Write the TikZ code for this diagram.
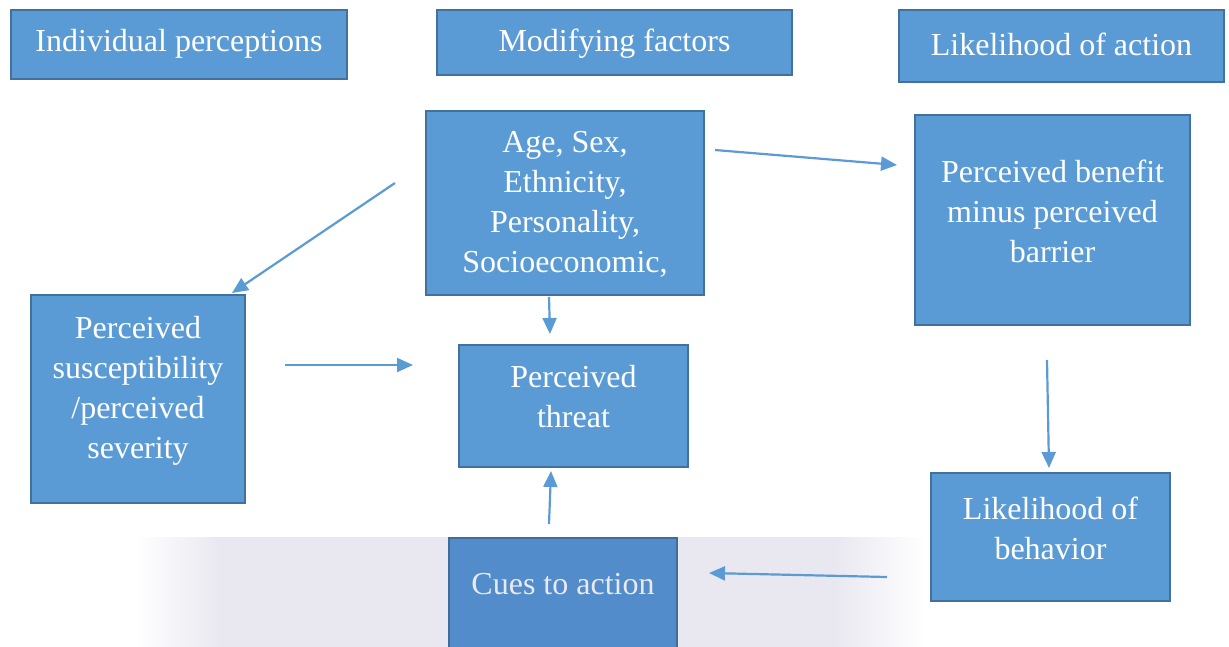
\documentclass[tikz,border=0pt]{standalone}
\usepackage{fontspec}
\setmainfont{Liberation Serif}
\usetikzlibrary{arrows.meta}
\definecolor{boxfill}{HTML}{5B9BD5}
\definecolor{boxline}{HTML}{41719C}
\definecolor{arrcol}{HTML}{5B9BD5}
\definecolor{cuefill}{HTML}{538CCA}
\definecolor{cueline}{HTML}{3F6C9A}
\definecolor{cuetext}{HTML}{E9E9F0}
\definecolor{wm}{HTML}{E9E8F1}
\tikzset{
  box/.style={draw=boxline, fill=boxfill, line width=2.5pt, inner sep=0pt},
  txt/.style={text=white, align=center, inner sep=0pt, font=\fontsize{32}{40}\selectfont},
  arr/.style={draw=arrcol, line width=2.2pt, -{Triangle[length=16pt,width=14pt]}}
}
\begin{document}
\begin{tikzpicture}[x=1pt,y=-1pt]
\useasboundingbox (0,0) rectangle (1229,646);
\clip (0,0) rectangle (1229,646);
% watermark band
\fill[wm] (220,537) rectangle (835,660);
\shade[left color=white, right color=wm] (135,537) rectangle (220,660);
\shade[left color=wm, right color=white] (835,537) rectangle (925,660);

% header boxes
\node[box, minimum width=336pt, minimum height=69pt] (ip) at (179,44.5) {};
\node[txt] (ip-t) at (179,44) {Individual perceptions};
\node[box, minimum width=355pt, minimum height=65pt] (mf) at (614.5,42.5) {};
\node[txt] (mf-t) at (614.5,44) {Modifying factors};
\node[box, minimum width=325pt, minimum height=72pt] (la) at (1061.5,46) {};
\node[txt] (la-t) at (1061.5,44) {Likelihood of action};

% main boxes
\node[box, minimum width=278pt, minimum height=184pt] (age) at (565,203) {};
\node[txt] (age-t) at (565,204) {Age, Sex,\\Ethnicity,\\Personality,\\Socioeconomic,};
\node[box, minimum width=275pt, minimum height=210pt] (ben) at (1052.5,220) {};
\node[txt] (ben-t) at (1052.5,211) {Perceived benefit\\minus perceived\\barrier};
\node[box, minimum width=214pt, minimum height=208pt] (sus) at (138,399) {};
\node[txt] (sus-t) at (138,391) {Perceived\\susceptibility\\/perceived\\severity};
\node[box, minimum width=229pt, minimum height=122pt] (thr) at (573.5,406) {};
\node[txt] (thr-t) at (573.5,397) {Perceived\\threat};
\node[box, minimum width=239pt, minimum height=128pt] (beh) at (1050.5,537) {};
\node[txt] (beh-t) at (1050.5,528) {Likelihood of\\behavior};
\node[box, draw=cueline, fill=cuefill, minimum width=228pt, minimum height=130pt] (cue) at (563,603) {};
\node[txt, text=cuetext] (cue-t) at (563,584) {Cues to action};

% connector end points
\coordinate (a1) at (395,183);  \coordinate (b1) at (232,293);
\coordinate (a2) at (715,150);  \coordinate (b2) at (897,165);
\coordinate (a3) at (549,297);  \coordinate (b3) at (550,334);
\coordinate (a4) at (285,365);  \coordinate (b4) at (413,365);
\coordinate (a5) at (1047,360); \coordinate (b5) at (1049,468);
\coordinate (a6) at (887,577);  \coordinate (b6) at (709,573);
\coordinate (a7) at (549,524);  \coordinate (b7) at (551,471);

\draw[arr] (a1) -- (b1);
\draw[arr] (a2) -- (b2);
\draw[arr] (a3) -- (b3);
\draw[arr] (a4) -- (b4);
\draw[arr] (a5) -- (b5);
\draw[arr] (a6) -- (b6);
\draw[arr] (a7) -- (b7);
\end{tikzpicture}
\end{document}
